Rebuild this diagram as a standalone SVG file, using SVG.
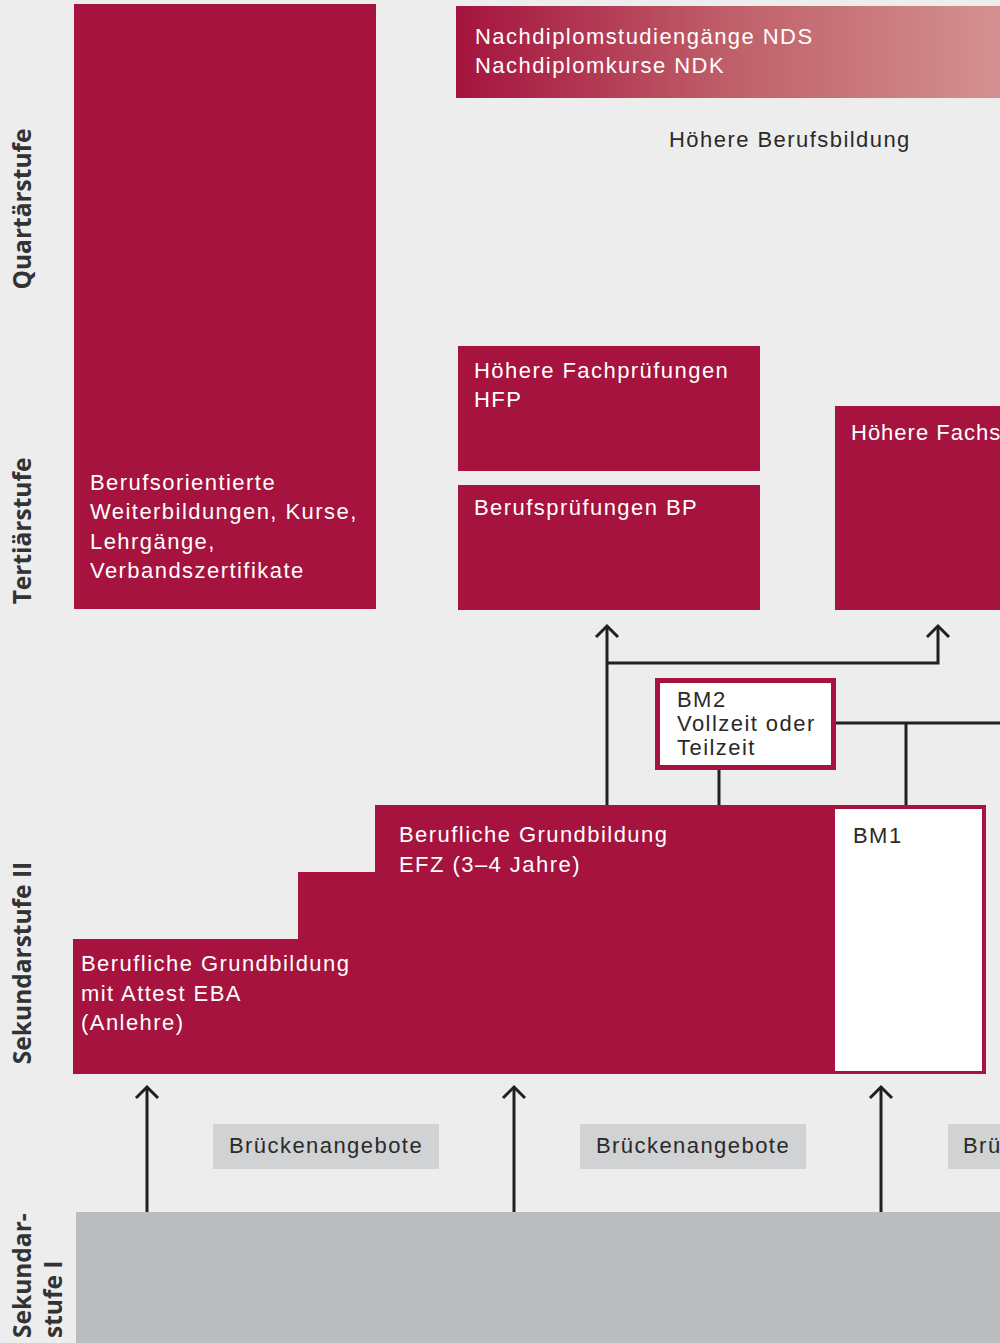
<svg xmlns="http://www.w3.org/2000/svg" width="1000" height="1343" viewBox="0 0 1000 1343">
<defs>
<linearGradient id="gradNDS" x1="0" y1="0" x2="1" y2="0">
<stop offset="0" stop-color="#a5133e"/>
<stop offset="0.5" stop-color="#bf5f69"/>
<stop offset="1" stop-color="#d4918f"/>
</linearGradient>
<marker id="arr" markerUnits="userSpaceOnUse" orient="auto" overflow="visible" refX="0" refY="0" markerWidth="24" markerHeight="24">
<path d="M-11,-11 L0,0 L-11,11" fill="none" stroke="#231f20" stroke-width="3"/>
</marker>
<style>
.red{fill:#a5133e}
.wt{font-family:"Liberation Sans",Arial,sans-serif;font-size:22px;fill:#ffffff;letter-spacing:1.45px}
.dt{font-family:"Liberation Sans",Arial,sans-serif;font-size:22px;fill:#2a2a2a;letter-spacing:1.45px}
.lvl{font-family:"Open Sans","DejaVu Sans",sans-serif;font-size:24.5px;font-weight:bold;fill:#333333}
.ln{fill:none;stroke:#231f20;stroke-width:3}
.bridge{fill:#d1d2d4}
</style>
</defs>
<rect width="1000" height="1343" fill="#ededed"/>

<g id="levels">
<text class="lvl" transform="translate(31,209) rotate(-90)" text-anchor="middle">Quartärstufe</text>
<text class="lvl" transform="translate(31,531) rotate(-90)" text-anchor="middle">Tertiärstufe</text>
<text class="lvl" transform="translate(31,963) rotate(-90)" text-anchor="middle">Sekundarstufe II</text>
<text class="lvl" transform="translate(31,1338) rotate(-90)">Sekundar-</text>
<text class="lvl" transform="translate(62,1338) rotate(-90)">stufe I</text>
</g>

<g id="connectors">
<line class="ln" x1="607" y1="805" x2="607" y2="626" marker-end="url(#arr)"/>
<polyline class="ln" points="607,663 938,663 938,626" marker-end="url(#arr)"/>
<line class="ln" x1="719" y1="770" x2="719" y2="805"/>
<line class="ln" x1="836" y1="723" x2="1000" y2="723"/>
<line class="ln" x1="906" y1="723" x2="906" y2="805"/>
<line class="ln" x1="147" y1="1212" x2="147" y2="1087" marker-end="url(#arr)"/>
<line class="ln" x1="514" y1="1212" x2="514" y2="1087" marker-end="url(#arr)"/>
<line class="ln" x1="881" y1="1212" x2="881" y2="1087" marker-end="url(#arr)"/>
</g>

<g id="weiterbildung">
<rect class="red" x="74" y="4" width="302" height="605"/>
<text class="wt" x="90" y="490">Berufsorientierte</text>
<text class="wt" x="90" y="519">Weiterbildungen, Kurse,</text>
<text class="wt" x="90" y="549">Lehrgänge,</text>
<text class="wt" x="90" y="578">Verbandszertifikate</text>
</g>

<g id="nds">
<rect x="456" y="6" width="544" height="92" fill="url(#gradNDS)"/>
<text class="wt" x="475" y="44">Nachdiplomstudiengänge NDS</text>
<text class="wt" x="475" y="73">Nachdiplomkurse NDK</text>
</g>

<g id="hoehere-berufsbildung">
<text class="dt" x="669" y="147">Höhere Berufsbildung</text>
</g>

<g id="hfp">
<rect class="red" x="458" y="346" width="302" height="125"/>
<text class="wt" x="474" y="378">Höhere Fachprüfungen</text>
<text class="wt" x="474" y="407">HFP</text>
</g>

<g id="bp">
<rect class="red" x="458" y="485" width="302" height="125"/>
<text class="wt" x="474" y="515">Berufsprüfungen BP</text>
</g>

<g id="hf">
<rect class="red" x="835" y="406" width="165" height="204"/>
<text class="wt" x="851" y="440" style="letter-spacing:1px">Höhere Fachs</text>
</g>

<g id="bm2">
<rect x="657.5" y="680.5" width="176" height="87" fill="#ffffff" stroke="#a5133e" stroke-width="5"/>
<text class="dt" x="677" y="707">BM2</text>
<text class="dt" x="677" y="731">Vollzeit oder</text>
<text class="dt" x="677" y="755">Teilzeit</text>
</g>

<g id="grundbildung">
<polygon class="red" points="375,805 986,805 986,1074 73,1074 73,939 298,939 298,872 375,872"/>
<text class="wt" x="399" y="842">Berufliche Grundbildung</text>
<text class="wt" x="399" y="872">EFZ (3–4 Jahre)</text>
<text class="wt" x="81" y="971">Berufliche Grundbildung</text>
<text class="wt" x="81" y="1001">mit Attest EBA</text>
<text class="wt" x="81" y="1030">(Anlehre)</text>
</g>

<g id="bm1">
<rect x="835" y="809" width="147" height="262" fill="#ffffff"/>
<text class="dt" x="853" y="843">BM1</text>
</g>

<g id="bruecke1">
<rect class="bridge" x="213" y="1124" width="226" height="45"/>
<text class="dt" x="326" y="1153" text-anchor="middle">Brückenangebote</text>
</g>
<g id="bruecke2">
<rect class="bridge" x="580" y="1124" width="226" height="45"/>
<text class="dt" x="693" y="1153" text-anchor="middle">Brückenangebote</text>
</g>
<g id="bruecke3">
<rect class="bridge" x="948" y="1124" width="52" height="45"/>
<text class="dt" x="963" y="1153">Brü</text>
</g>

<g id="sekundarstufe1">
<rect x="76" y="1212" width="924" height="131" fill="#bbbcc0"/>
</g>
</svg>
